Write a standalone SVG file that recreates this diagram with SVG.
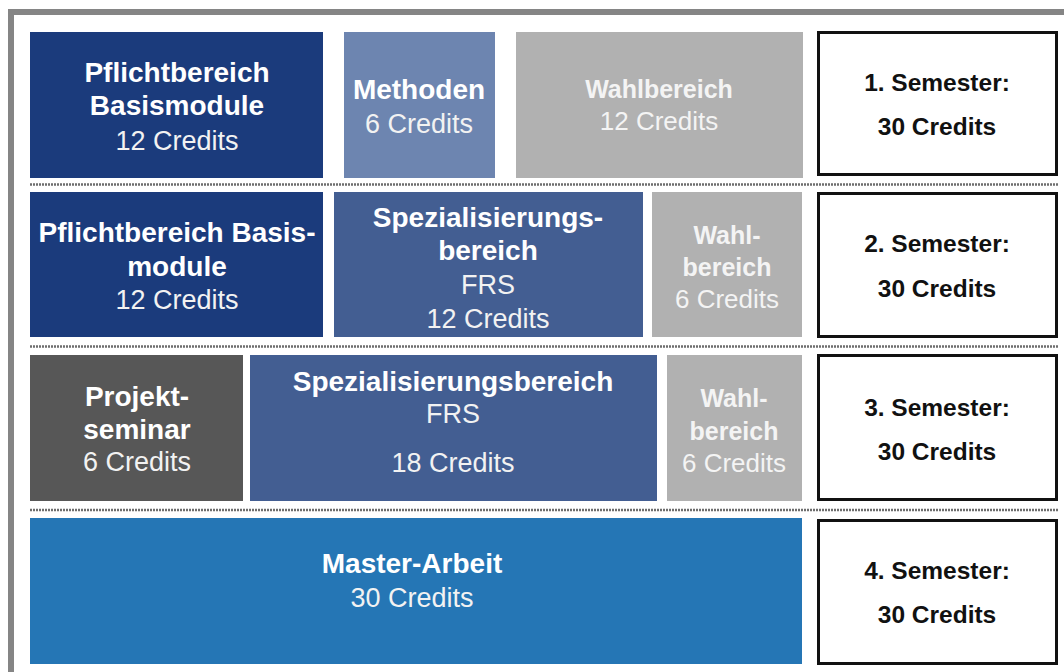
<svg xmlns="http://www.w3.org/2000/svg" width="1064" height="672" viewBox="0 0 1064 672">
<style>
  text { font-family: "Liberation Sans", Arial, sans-serif; text-anchor: middle; }
  .t { font-weight: bold; font-size: 28px; fill: #ffffff; }
  .c { font-size: 27px; fill: #f2f2f2; }
  .tg { font-weight: bold; font-size: 25px; fill: #f4f4f4; }
  .cg { font-size: 26px; fill: #f4f4f4; }
  .s { font-weight: bold; font-size: 24.5px; fill: #111111; }
  .navy { fill: #1b3b7c; }
  .meth { fill: #6d85b0; }
  .spez { fill: #435e92; }
  .gray { fill: #b1b1b1; }
  .dark { fill: #575757; }
  .master { fill: #2576b5; }
  .sem { fill: #ffffff; stroke: #111111; stroke-width: 3; }
  .sep { stroke: #6e6e6e; stroke-width: 2.5; stroke-dasharray: 2 1; fill: none; }
</style>
<rect width="1064" height="672" fill="#ffffff"/>
<rect x="11" y="12" width="1080" height="700" fill="none" stroke="#858585" stroke-width="6"/>

<g id="separators">
  <line class="sep" x1="30" y1="184.5" x2="1058" y2="184.5"/>
  <line class="sep" x1="30" y1="346.5" x2="1058" y2="346.5"/>
  <line class="sep" x1="30" y1="510" x2="1058" y2="510"/>
</g>

<!-- Row 1 -->
<g id="s1-pflicht">
  <rect class="navy" x="30" y="32" width="293" height="146"/>
  <text class="t" x="177" y="82">Pflichtbereich</text>
  <text class="t" x="177" y="115">Basismodule</text>
  <text class="c" x="177" y="150">12 Credits</text>
</g>
<g id="s1-methoden">
  <rect class="meth" x="344" y="32" width="151" height="146"/>
  <text class="t" x="419" y="99">Methoden</text>
  <text class="c" x="419" y="133">6 Credits</text>
</g>
<g id="s1-wahl">
  <rect class="gray" x="516" y="32" width="287" height="146"/>
  <text class="tg" x="659" y="98">Wahlbereich</text>
  <text class="cg" x="659" y="130">12 Credits</text>
</g>
<g id="sem1">
  <rect class="sem" x="818.5" y="32.5" width="238" height="142"/>
  <text class="s" x="937" y="91">1. Semester:</text>
  <text class="s" x="937" y="135">30 Credits</text>
</g>

<!-- Row 2 -->
<g id="s2-pflicht">
  <rect class="navy" x="30" y="192" width="293" height="145"/>
  <text class="t" x="177" y="242">Pflichtbereich Basis-</text>
  <text class="t" x="177" y="276">module</text>
  <text class="c" x="177" y="309">12 Credits</text>
</g>
<g id="s2-spez">
  <rect class="spez" x="334" y="192" width="309" height="145"/>
  <text class="t" x="488" y="227">Spezialisierungs-</text>
  <text class="t" x="488" y="260">bereich</text>
  <text class="c" x="488" y="294">FRS</text>
  <text class="c" x="488" y="328">12 Credits</text>
</g>
<g id="s2-wahl">
  <rect class="gray" x="652" y="192" width="150" height="145"/>
  <text class="tg" x="727" y="244">Wahl-</text>
  <text class="tg" x="727" y="276">bereich</text>
  <text class="cg" x="727" y="308">6 Credits</text>
</g>
<g id="sem2">
  <rect class="sem" x="818.5" y="193.5" width="238" height="143"/>
  <text class="s" x="937" y="252">2. Semester:</text>
  <text class="s" x="937" y="297">30 Credits</text>
</g>

<!-- Row 3 -->
<g id="s3-projekt">
  <rect class="dark" x="30" y="355" width="213" height="146"/>
  <text class="t" x="137" y="406">Projekt-</text>
  <text class="t" x="137" y="439">seminar</text>
  <text class="c" x="137" y="471">6 Credits</text>
</g>
<g id="s3-spez">
  <rect class="spez" x="250" y="355" width="407" height="146"/>
  <text class="t" x="453" y="391">Spezialisierungsbereich</text>
  <text class="c" x="453" y="423">FRS</text>
  <text class="c" x="453" y="472">18 Credits</text>
</g>
<g id="s3-wahl">
  <rect class="gray" x="667" y="355" width="135" height="146"/>
  <text class="tg" x="734" y="407">Wahl-</text>
  <text class="tg" x="734" y="440">bereich</text>
  <text class="cg" x="734" y="472">6 Credits</text>
</g>
<g id="sem3">
  <rect class="sem" x="818.5" y="355.5" width="238" height="144"/>
  <text class="s" x="937" y="416">3. Semester:</text>
  <text class="s" x="937" y="460">30 Credits</text>
</g>

<!-- Row 4 -->
<g id="s4-master">
  <rect class="master" x="30" y="518" width="772" height="146"/>
  <text class="t" x="412" y="573">Master-Arbeit</text>
  <text class="c" x="412" y="607">30 Credits</text>
</g>
<g id="sem4">
  <rect class="sem" x="818.5" y="520.5" width="238" height="143"/>
  <text class="s" x="937" y="579">4. Semester:</text>
  <text class="s" x="937" y="623">30 Credits</text>
</g>
</svg>
